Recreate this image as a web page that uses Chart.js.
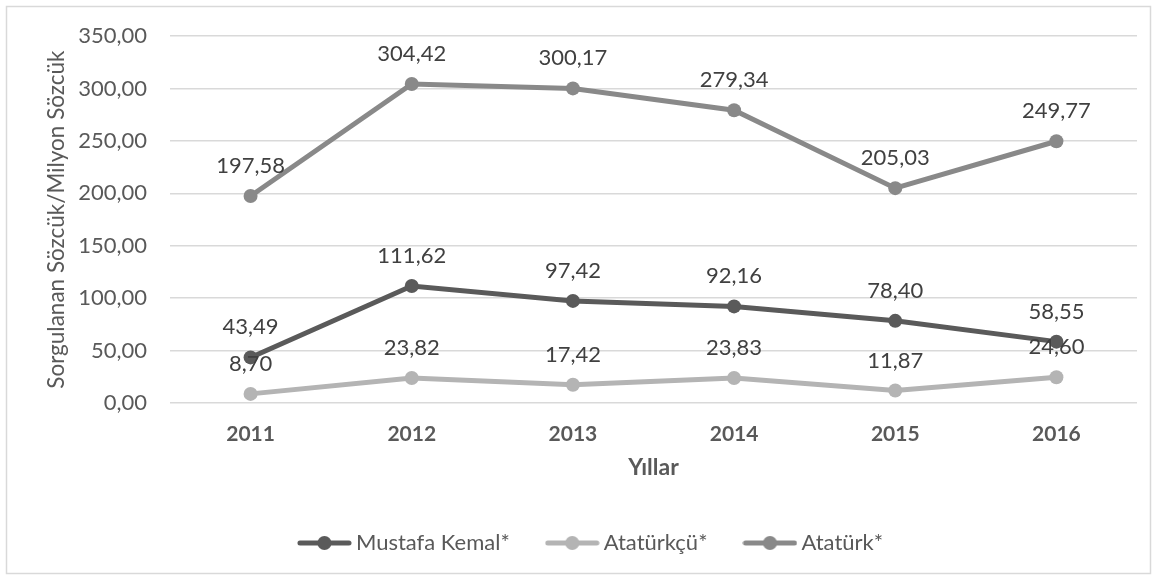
<!DOCTYPE html>
<html>
<head>
<meta charset="utf-8">
<script src="https://cdn.jsdelivr.net/npm/chart.js@4"></script>
<style>
  html, body { margin: 0; padding: 0; background: #fff; }
  #wrap { width: 1157px; height: 580px; }
</style>
</head>
<body>
<div id="wrap"><canvas id="chart" width="1157" height="580"></canvas></div>
<script>
// verileri
const years = ['2011', '2012', '2013', '2014', '2015', '2016'];
const mustafaKemal = [43.49, 111.62, 97.42, 92.16, 78.40, 58.55];
const ataturkcu = [8.70, 23.82, 17.42, 23.83, 11.87, 24.60];
const ataturk = [197.58, 304.42, 300.17, 279.34, 205.03, 249.77];
const seriesNames = ['Mustafa Kemal*', 'Atatürkçü*', 'Atatürk*'];
const seriesColors = ['#5a5a5a', '#b4b4b4', '#898989'];

const FONT = 'Lato, "Open Sans", sans-serif';
const fmt = (v) => v.toFixed(2).replace('.', ',');

// legend simgesi: çizgi + yuvarlak
function legendIcon(color) {
  const c = document.createElement('canvas');
  c.width = 55;
  c.height = 16;
  const g = c.getContext('2d');
  g.strokeStyle = color;
  g.lineWidth = 5;
  g.lineCap = 'round';
  g.beginPath();
  g.moveTo(3, 8);
  g.lineTo(52, 8);
  g.stroke();
  g.fillStyle = color;
  g.beginPath();
  g.arc(27.5, 8, 7, 0, Math.PI * 2);
  g.fill();
  return c;
}
const icons = seriesColors.map(legendIcon);

const valueLabels = {
  id: 'valueLabels',
  afterDatasetsDraw(chart) {
    const { ctx } = chart;
    ctx.save();
    ctx.font = `22px ${FONT}`;
    ctx.fillStyle = '#404040';
    ctx.textAlign = 'center';
    ctx.textBaseline = 'alphabetic';
    chart.data.datasets.forEach((ds, i) => {
      chart.getDatasetMeta(i).data.forEach((pt, j) => {
        ctx.fillText(fmt(ds.data[j]), pt.x, pt.y - 23);
      });
    });
    ctx.restore();
  },
};

const frame = {
  id: 'frame',
  beforeDraw(chart) {
    const { ctx } = chart;
    ctx.save();
    ctx.fillStyle = '#fff';
    ctx.fillRect(0, 0, chart.width, chart.height);
    ctx.strokeStyle = '#d9d9d9';
    ctx.lineWidth = 1.5;
    ctx.strokeRect(6.5, 6.5, 1144, 567);
    ctx.restore();
  },
};

// legend'i referanstaki konuma kaydır
const legendShift = {
  id: 'legendShift',
  afterLayout(chart) {
    if (chart.legend) {
      chart.legend.right = 1187;
    }
  },
};

const makeSet = (label, data, color) => ({
  label,
  data,
  borderColor: color,
  backgroundColor: color,
  borderWidth: 5,
  pointRadius: 7,
  pointHoverRadius: 7,
  pointBorderWidth: 0,
  pointBackgroundColor: color,
  tension: 0,
});

new Chart(document.getElementById('chart'), {
  type: 'line',
  data: {
    labels: years,
    datasets: [
      makeSet(seriesNames[0], mustafaKemal, seriesColors[0]),
      makeSet(seriesNames[1], ataturkcu, seriesColors[1]),
      makeSet(seriesNames[2], ataturk, seriesColors[2]),
    ],
  },
  options: {
    responsive: false,
    animation: false,
    devicePixelRatio: 1,
    layout: { padding: { left: 0, right: 20, top: 35, bottom: 16 } },
    scales: {
      x: {
        offset: true,
        grid: { display: false, drawTicks: false },
        border: { display: false },
        ticks: { color: '#595959', font: { family: FONT, size: 21, weight: 'bold' }, padding: 19 },
        title: {
          display: true,
          text: 'Yıllar',
          color: '#595959',
          font: { family: FONT, size: 23, weight: 'bold' },
          padding: { top: 0, bottom: 9 },
        },
        afterFit(scale) { scale.height = 87; },
      },
      y: {
        min: 0,
        max: 350,
        ticks: {
          stepSize: 50,
          color: '#595959',
          font: { family: FONT, size: 22 },
          padding: 23,
          callback: (v) => fmt(v),
        },
        grid: { color: '#d9d9d9', lineWidth: 1.5, drawTicks: false },
        border: { display: false },
        title: {
          display: true,
          text: 'Sorgulanan Sözcük/Milyon Sözcük',
          color: '#595959',
          font: { family: FONT, size: 22.5 },
          padding: { top: 43, bottom: 0 },
        },
        afterFit(scale) { scale.width = 170; },
      },
    },
    plugins: {
      tooltip: { enabled: false },
      legend: {
        position: 'bottom',
        labels: {
          usePointStyle: true,
          pointStyleWidth: 41,
          padding: 42,
          color: '#595959',
          font: { family: FONT, size: 22 },
          generateLabels(chart) {
            const items = Chart.defaults.plugins.legend.labels.generateLabels(chart);
            items.forEach((it, i) => { it.pointStyle = icons[i]; });
            return items;
          },
        },
      },
    },
  },
  plugins: [frame, valueLabels, legendShift],
});
</script>
</body>
</html>
